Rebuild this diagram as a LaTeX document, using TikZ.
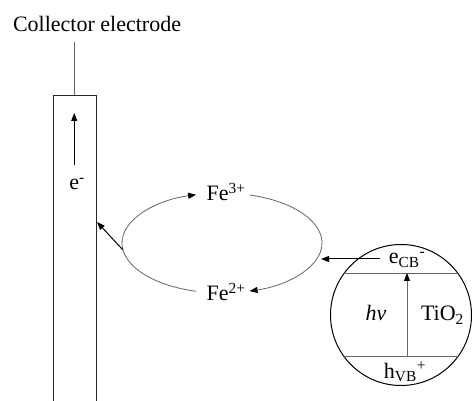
\documentclass[tikz,border=0pt]{standalone}
\usepackage{fontspec}
\setmainfont{Liberation Serif}
\usetikzlibrary{arrows.meta,calc}
\begin{document}
\begin{tikzpicture}[x=1pt,y=1pt,
  lbl/.style={font=\fontsize{22}{26}\selectfont, inner sep=0pt},
  thinline/.style={draw=black!60, line width=0.8pt},
  arr/.style={-{Triangle[length=8pt,width=6pt,color=black]}, line width=1pt},
]
\useasboundingbox (0,0) rectangle (472,-401);
% title and electrode
\node[lbl, anchor=base] (title) at (97,-32) {Collector electrode};
\node[draw=black!85, line width=1.1pt, minimum width=42.5pt, minimum height=320pt,
      anchor=north west, inner sep=0pt] (electrode) at (53,-95) {};
\coordinate (wiretop) at ($(electrode.north)+(0,53)$);
\draw[thinline] (wiretop) -- (electrode.north);
\coordinate (up0) at (74.25,-165);
\coordinate (up1) at (74.25,-113);
\draw[arr, draw=black] (up0) -- (up1);
\node[lbl, anchor=base] (e) at (77,-190) {e\textsuperscript{-}};
% redox cycle
\coordinate (cyc) at (222,-243);
\node[lbl, anchor=base] (fe3) at (226,-201) {Fe\textsuperscript{3+}};
\node[lbl, anchor=base] (fe2) at (226,-301) {Fe\textsuperscript{2+}};
\draw[thinline, arr, line width=0.8pt] ($(cyc)+(255:100 and 50)$)
   arc[start angle=255, end angle=105, x radius=100, y radius=50];
\draw[thinline, arr, line width=0.8pt] ($(cyc)+(74:100 and 50)$)
   arc[start angle=74, end angle=-74, x radius=100, y radius=50];
\coordinate (cycleft) at ($(cyc)+(188:100 and 50)$);
\coordinate (etarget) at (97,-222);
\draw[arr, draw=black] (cycleft) -- (etarget);
% TiO2 particle
\node[draw=black, circle, minimum size=141pt, inner sep=0pt, line width=1pt] (tio2) at (401,-315) {};
\draw[thinline] (344.4,-273) -- (457.6,-273);
\draw[thinline] (343.6,-356) -- (458.4,-356);
\coordinate (vb) at (407,-356);
\coordinate (cb) at (407,-273);
\draw[arr, draw=black!60, line width=0.8pt] (vb) -- (cb);
\node[lbl, anchor=base] (ecb) at (407,-264) {e\textsubscript{CB}\textsuperscript{-}};
\node[lbl, anchor=base] (hvb) at (405,-378) {h\textsubscript{VB}\textsuperscript{+}};
\node[lbl, anchor=base] (hv) at (376,-321) {\textit{hv}};
\node[lbl, anchor=base] (tio2lbl) at (442.5,-321) {TiO\textsubscript{2}};
\coordinate (cycright) at (321,-259);
\draw[arr, draw=black] ($(ecb.west |- cycright)+(-9,0)$) -- (cycright);
\end{tikzpicture}
\end{document}
